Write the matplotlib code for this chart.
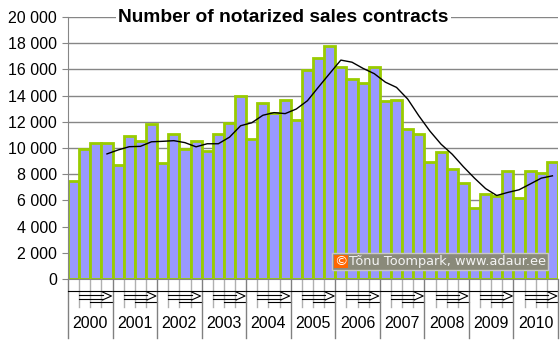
import numpy as np
import matplotlib
matplotlib.use('Agg')
import matplotlib.pyplot as plt
import matplotlib.transforms as mtransforms
from matplotlib.patches import Rectangle

plt.rcParams['font.family'] = ['Liberation Sans', 'DejaVu Sans']

# --- Data: quarterly notarized sales contracts ---
years = ['2000', '2001', '2002', '2003', '2004', '2005',
         '2006', '2007', '2008', '2009', '2010']
contracts = [7500, 9900, 10400, 10400,
             8700, 10900, 10500, 11800,
             8850, 11100, 9900, 10500,
             9800, 11100, 11900, 14000,
             10700, 13400, 12700, 13700,
             12100, 15950, 16900, 17800,
             16200, 15300, 15000, 16200,
             13600, 13700, 11450, 11100,
             8900, 9700, 8400, 7300,
             5400, 6500, 6300, 8250,
             6200, 8250, 8100, 8950]
# 4-quarter moving average, starts at 2000 Q4
moving_avg = [9550, 9850, 10100, 10125, 10475, 10510, 10560, 10410,
              10090, 10325, 10325, 10825, 11700, 11925, 12500, 12700,
              12625, 12975, 13610, 14660, 15690, 16710, 16550, 16075,
              15675, 15025, 14625, 13740, 12460, 11290, 10290, 9525,
              8575, 7700, 6900, 6375, 6610, 6810, 7250, 7700, 7875]
title = 'Number of notarized sales contracts'
credit = 'Tõnu Toompark, www.adaur.ee'

W, H = 560, 342
fig = plt.figure(figsize=(W / 100, H / 100), dpi=100)
ax = fig.add_axes([68 / W, 1 - 279 / H, 490 / W, 262 / H])

x = np.arange(len(contracts))
ax.bar(x, contracts, width=1.0, color='#9999FF', edgecolor='#99CC00',
       linewidth=2.0, zorder=2)
ma_x = np.arange(3, 3 + len(moving_avg))
ax.plot(ma_x, moving_avg, color='black', linewidth=1.0, zorder=3)

ax.set_xlim(-0.5, len(contracts) - 0.5)
ax.set_ylim(0, 20000)
yt = np.arange(0, 20001, 2000)
ax.set_yticks(yt)
ax.set_yticklabels([f'{v:,}'.replace(',', ' ') for v in yt], fontsize=11.5)
ax.yaxis.grid(True, color='#868686', linewidth=1.0, zorder=0)
ax.set_axisbelow(True)
ax.set_xticks([])
ax.tick_params(axis='y', length=4, color='#868686', pad=4)
for s in ['top', 'right']:
    ax.spines[s].set_visible(False)
ax.spines['left'].set_color('#868686')
ax.spines['bottom'].set_color('#868686')

# title sits on the top gridline
ax.text(0.44, 20000, title, transform=mtransforms.blended_transform_factory(ax.transAxes, ax.transData),
        ha='center', va='center', fontsize=13.8, fontweight='bold',
        bbox=dict(facecolor='white', edgecolor='none', pad=2), zorder=5)

# --- category axis: quarter arrows and year labels ---
tr = mtransforms.blended_transform_factory(ax.transData, fig.transFigure)
def fy(py):
    return 1 - py / H

for i, yr in enumerate(years):
    L = 4 * i - 0.5
    for q in range(1, 4):
        ax.plot([L + q, L + q], [fy(279), fy(307)], transform=tr, color='#b0b0b0',
                linewidth=1.0, clip_on=False)
    ax.plot([L, L], [fy(279), fy(338)], transform=tr, color='#808080', linewidth=1.0, clip_on=False)
    kw = dict(transform=tr, color='black', linewidth=0.8, clip_on=False)
    ax.plot([L, L + 4], [fy(291), fy(291)], **kw)
    ax.plot([L + 1, L + 3.1], [fy(295), fy(295)], **kw)
    ax.plot([L + 1, L + 3.1], [fy(298.5), fy(298.5)], **kw)
    ax.plot([L + 3.1, L + 3.9, L + 3.1], [fy(292), fy(296), fy(300)], **kw)
    ax.plot([L + 2, L + 4], [fy(302), fy(302)], **kw)
    ax.text(L + 2, fy(324), yr, transform=tr, ha='center', va='center', fontsize=11.5)
ax.plot([43.5, 43.5], [fy(279), fy(338)], transform=tr, color='#808080', linewidth=1.0, clip_on=False)

# --- credit box ---
fig.patches.append(Rectangle((332 / W, fy(270)), 216 / W, 17 / H, transform=fig.transFigure,
                             facecolor='#8a8a7a', edgecolor='#c8c8c8', linewidth=1, zorder=6))
fig.patches.append(Rectangle((334 / W, fy(268)), 14 / W, 13 / H, transform=fig.transFigure,
                             facecolor='#ff6600', edgecolor='none', zorder=7))
fig.text(341 / W, fy(261.5), '©', ha='center', va='center',
         fontsize=9.5, color='white', family='DejaVu Sans', zorder=8)
fig.text(546 / W, fy(261.5), credit, ha='right', va='center',
         fontsize=9.3, color='#f4f4f4', family='DejaVu Sans', zorder=8)

fig.savefig('out.png', dpi=100)
